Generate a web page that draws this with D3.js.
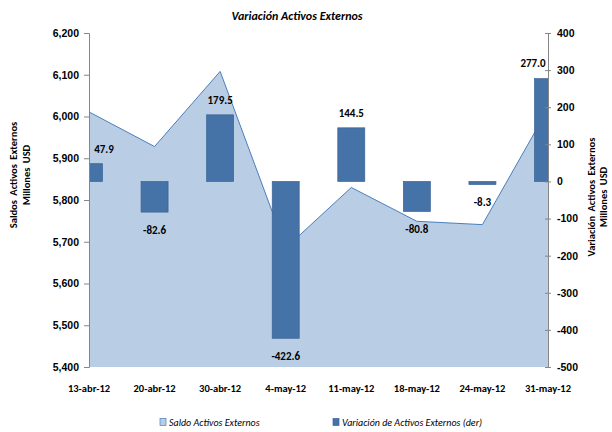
<!DOCTYPE html>
<html>
<head>
<meta charset="utf-8">
<script src="https://cdn.jsdelivr.net/npm/d3@7"></script>
<style>
  body { margin: 0; background: #fff; }
  svg { font-family: Carlito, Lato, "Open Sans", sans-serif; }
  .tick text { font-size: 10.5px; font-weight: bold; fill: #000; }
</style>
</head>
<body>
<svg id="chart" width="612" height="432"></svg>
<script>
// data
var fechas = ['13-abr-12', '20-abr-12', '30-abr-12', '4-may-12', '11-may-12', '18-may-12', '24-may-12', '31-may-12'];
var saldo = [6011, 5928, 6108, 5685, 5830, 5749, 5741, 6018];
var variacion = [47.9, -82.6, 179.5, -422.6, 144.5, -80.8, -8.3, 277.0];
var ticksIzq = [5400, 5500, 5600, 5700, 5800, 5900, 6000, 6100, 6200];
var ticksDer = [-500, -400, -300, -200, -100, 0, 100, 200, 300, 400];

var svg = d3.select('#chart');
var plotLeft = 89, plotRight = 548, plotTop = 33, plotBottom = 367;
var barWidth = 27;

// plain hyphen for negatives, like the original
var locale = d3.formatLocale({ decimal: '.', thousands: ',', grouping: [3], currency: ['', ''], minus: '-' });

var x = d3.scalePoint().domain(fechas).range([plotLeft, plotRight]);
var yIzq = d3.scaleLinear().domain([5400, 6200]).range([plotBottom, plotTop]);
var yDer = d3.scaleLinear().domain([-500, 400]).range([plotBottom, plotTop]);

svg.append('defs').append('clipPath').attr('id', 'plot')
  .append('rect').attr('x', plotLeft).attr('y', plotTop)
  .attr('width', plotRight - plotLeft).attr('height', plotBottom - plotTop);

// area (left axis)
var area = d3.area()
  .x(function(d, i) { return x(fechas[i]); })
  .y0(plotBottom)
  .y1(function(d) { return yIzq(d); });
var line = d3.line()
  .x(function(d, i) { return x(fechas[i]); })
  .y(function(d) { return yIzq(d); });

var plot = svg.append('g').attr('clip-path', 'url(#plot)');
plot.append('path').datum(saldo).attr('d', area).attr('fill', '#b9cde5');
plot.append('path').datum(saldo).attr('d', line).attr('fill', 'none')
  .attr('stroke', '#4a7ebb').attr('stroke-width', 1);

// bars (right axis)
plot.selectAll('.bar').data(variacion).enter().append('rect')
  .attr('class', 'bar')
  .attr('x', function(d, i) { return x(fechas[i]) - barWidth / 2; })
  .attr('width', barWidth)
  .attr('y', function(d) { return yDer(Math.max(d, 0)); })
  .attr('height', function(d) { return Math.abs(yDer(d) - yDer(0)); })
  .attr('fill', '#4572a7')
  .attr('stroke', '#3b6496')
  .attr('stroke-width', 0.7);

// data labels
svg.selectAll('.lbl').data(variacion).enter().append('text')
  .attr('class', 'lbl')
  .attr('x', function(d, i) {
    var cx = x(fechas[i]);
    return Math.min(Math.max(cx, plotLeft + 15), plotRight - 15);
  })
  .attr('y', function(d) { return d >= 0 ? yDer(d) - 15 : yDer(d) + 18; })
  .attr('dy', '0.35em')
  .attr('text-anchor', 'middle')
  .style('font-size', '11px')
  .style('font-weight', 'bold')
  .text(function(d) { return locale.format('.1f')(d); });

// axes
var axisIzq = d3.axisLeft(yIzq).tickValues(ticksIzq).tickFormat(locale.format(',')).tickSize(5).tickPadding(5);
var gIzq = svg.append('g').attr('transform', 'translate(' + plotLeft + ',0)').call(axisIzq);

var axisDer = d3.axisRight(yDer).tickValues(ticksDer).tickFormat(locale.format('d')).tickSize(3).tickPadding(6);
var gDer = svg.append('g').attr('transform', 'translate(' + plotRight + ',0)').call(axisDer);
gDer.selectAll('.tick line').attr('x1', -3);

[gIzq, gDer].forEach(function(g) {
  g.select('.domain').attr('stroke', '#868686');
  g.selectAll('.tick line').attr('stroke', '#868686');
});

// category labels
svg.selectAll('.cat').data(fechas).enter().append('text')
  .attr('class', 'cat')
  .attr('x', function(d) { return x(d); })
  .attr('y', 388)
  .attr('dy', '0.35em')
  .attr('text-anchor', 'middle')
  .style('font-size', '10.5px')
  .style('font-weight', 'bold')
  .text(function(d) { return d; });

// title
svg.append('text')
  .attr('x', 297).attr('y', 16).attr('dy', '0.35em')
  .attr('text-anchor', 'middle')
  .style('font-size', '12px').style('font-weight', 'bold').style('font-style', 'italic')
  .text('Variación Activos Externos');

// axis titles
var tituloIzq = svg.append('text').attr('transform', 'translate(13,175) rotate(-90)')
  .attr('text-anchor', 'middle').style('font-size', '10.5px').style('font-weight', 'bold')
  .style('word-spacing', '2px');
tituloIzq.append('tspan').attr('x', 0).attr('dy', '0.35em').text('Saldos Activos Externos');
tituloIzq.append('tspan').attr('x', 0).attr('dy', '1.3em').text('Millones USD');

var tituloDer = svg.append('text').attr('transform', 'translate(591,197) rotate(-90)')
  .attr('text-anchor', 'middle').style('font-size', '10.5px').style('font-weight', 'bold')
  .style('word-spacing', '2px');
tituloDer.append('tspan').attr('x', 0).attr('dy', '0.35em').text('Variación Activos Externos');
tituloDer.append('tspan').attr('x', 0).attr('dy', '1.2em').text('Millones USD');

// legend
var leyenda = [
  { nombre: 'Saldo Activos Externos', color: '#b9cde5', borde: '#4a7ebb', x: 160 },
  { nombre: 'Variación de Activos Externos (der)', color: '#4572a7', borde: '#3b6496', x: 333 }
];
var lg = svg.selectAll('.leg').data(leyenda).enter().append('g')
  .attr('transform', function(d) { return 'translate(' + d.x + ',422)'; });
lg.append('rect').attr('x', 0).attr('y', -3.5).attr('width', 6).attr('height', 7)
  .attr('fill', function(d) { return d.color; })
  .attr('stroke', function(d) { return d.borde; }).attr('stroke-width', 0.7);
lg.append('text').attr('x', 9).attr('dy', '0.35em')
  .style('font-size', '10px').style('font-style', 'italic')
  .text(function(d) { return d.nombre; });
</script>
</body>
</html>
